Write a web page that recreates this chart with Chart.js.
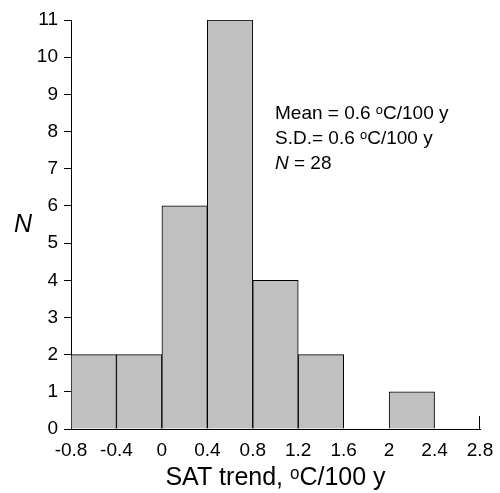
<!DOCTYPE html>
<html>
<head>
<meta charset="utf-8">
<script src="https://cdn.jsdelivr.net/npm/chart.js@4"></script>
<style>
  body { margin: 0; background: #fff; }
</style>
</head>
<body>
<canvas id="myChart" width="500" height="493"></canvas>
<script>
'use strict';
// histogram bins (left edge, width 0.4) and counts
let binStart = [-0.8, -0.4, 0, 0.4, 0.8, 1.2, 1.6, 2.0, 2.4];
let binWidth = 0.4;
let counts = [2, 2, 6, 11, 4, 2, 0, 1, 0];
let xTicks = [-0.8, -0.4, 0, 0.4, 0.8, 1.2, 1.6, 2, 2.4, 2.8];
let yTicks = [0, 1, 2, 3, 4, 5, 6, 7, 8, 9, 10, 11];
let statLines = ['Mean = 0.6 \u1D52C/100 y', 'S.D.= 0.6 \u1D52C/100 y'];
let nLine = ['N', ' = 28'];
let xTitle = 'SAT trend, \u1D52C/100 y';
let yTitle = 'N';

let points = [];
for ( let i = 0; i < binStart.length; i++ ) {
  points.push( { x: binStart[i] + binWidth / 2, y: counts[i] } );
}

// text that sits in the plot (stats box + upright N on y axis)
const textPlugin = {
  id: 'textPlugin',
  afterDraw( chart ) {
    const ctx = chart.ctx;
    const xs = chart.scales.x;
    const ys = chart.scales.y;
    ctx.save();
    // little end mark at the right end of the x axis
    let xe = Math.round( xs.getPixelForValue( xTicks[xTicks.length - 1] ) ) - 0.5;
    ctx.strokeStyle = '#000';
    ctx.lineWidth = 1;
    ctx.beginPath();
    ctx.moveTo( xe, ys.bottom );
    ctx.lineTo( xe, ys.bottom - 13 );
    ctx.stroke();

    ctx.fillStyle = '#000';
    ctx.textBaseline = 'alphabetic';
    ctx.textAlign = 'left';
    ctx.font = '19px "Liberation Sans", Arial, sans-serif';
    let x0 = 275;
    ctx.fillText( statLines[0], x0, 119 );
    ctx.fillText( statLines[1], x0, 144 );
    ctx.font = 'italic 19px "Liberation Sans", Arial, sans-serif';
    ctx.fillText( nLine[0], x0, 169 );
    let w = ctx.measureText( nLine[0] ).width;
    ctx.font = '19px "Liberation Sans", Arial, sans-serif';
    ctx.fillText( nLine[1], x0 + w, 169 );

    ctx.font = 'italic 25px "Liberation Sans", Arial, sans-serif';
    ctx.textAlign = 'center';
    ctx.textBaseline = 'middle';
    ctx.fillText( yTitle, 23, 225 );
    ctx.restore();
  }
};

const ctx = document.getElementById( 'myChart' ).getContext( '2d' );
const myChart = new Chart( ctx, {
  type: 'bar',
  data: {
    datasets: [{
      data: points,
      backgroundColor: '#c0c0c0',
      borderColor: '#000',
      borderWidth: 1,
      borderSkipped: 'start',
      barPercentage: 1,
      categoryPercentage: 1
    }]
  },
  options: {
    responsive: false,
    animation: false,
    layout: { padding: { top: 20, right: 20, left: 0, bottom: 0 } },
    plugins: {
      legend: { display: false },
      tooltip: { enabled: false }
    },
    scales: {
      x: {
        type: 'linear',
        offset: false,
        min: xTicks[0],
        max: xTicks[xTicks.length - 1],
        afterBuildTicks: ( scale ) => {
          scale.ticks = xTicks.map( v => ( { value: v } ) );
        },
        afterFit: ( scale ) => { scale.height = 64; },
        grid: { display: false },
        border: { display: true, color: '#000', width: 1 },
        ticks: {
          color: '#000',
          padding: 2,
          maxRotation: 0,
          autoSkip: false,
          callback: ( v ) => String( v ),
          font: { size: 19, family: '"Liberation Sans", Arial, sans-serif' }
        },
        title: {
          display: true,
          text: xTitle,
          color: '#000',
          padding: { top: 4, bottom: 0 },
          font: { size: 25, family: '"Liberation Sans", Arial, sans-serif' }
        }
      },
      y: {
        min: 0,
        max: 11,
        afterBuildTicks: ( scale ) => {
          scale.ticks = yTicks.map( v => ( { value: v } ) );
        },
        afterFit: ( scale ) => { scale.width = 71; },
        grid: {
          drawOnChartArea: false,
          drawTicks: true,
          tickLength: 7,
          color: '#000'
        },
        border: { display: true, color: '#000', width: 1 },
        ticks: {
          color: '#000',
          padding: 6,
          autoSkip: false,
          font: { size: 19, family: '"Liberation Sans", Arial, sans-serif' }
        }
      }
    }
  },
  plugins: [textPlugin]
} );
</script>
</body>
</html>
